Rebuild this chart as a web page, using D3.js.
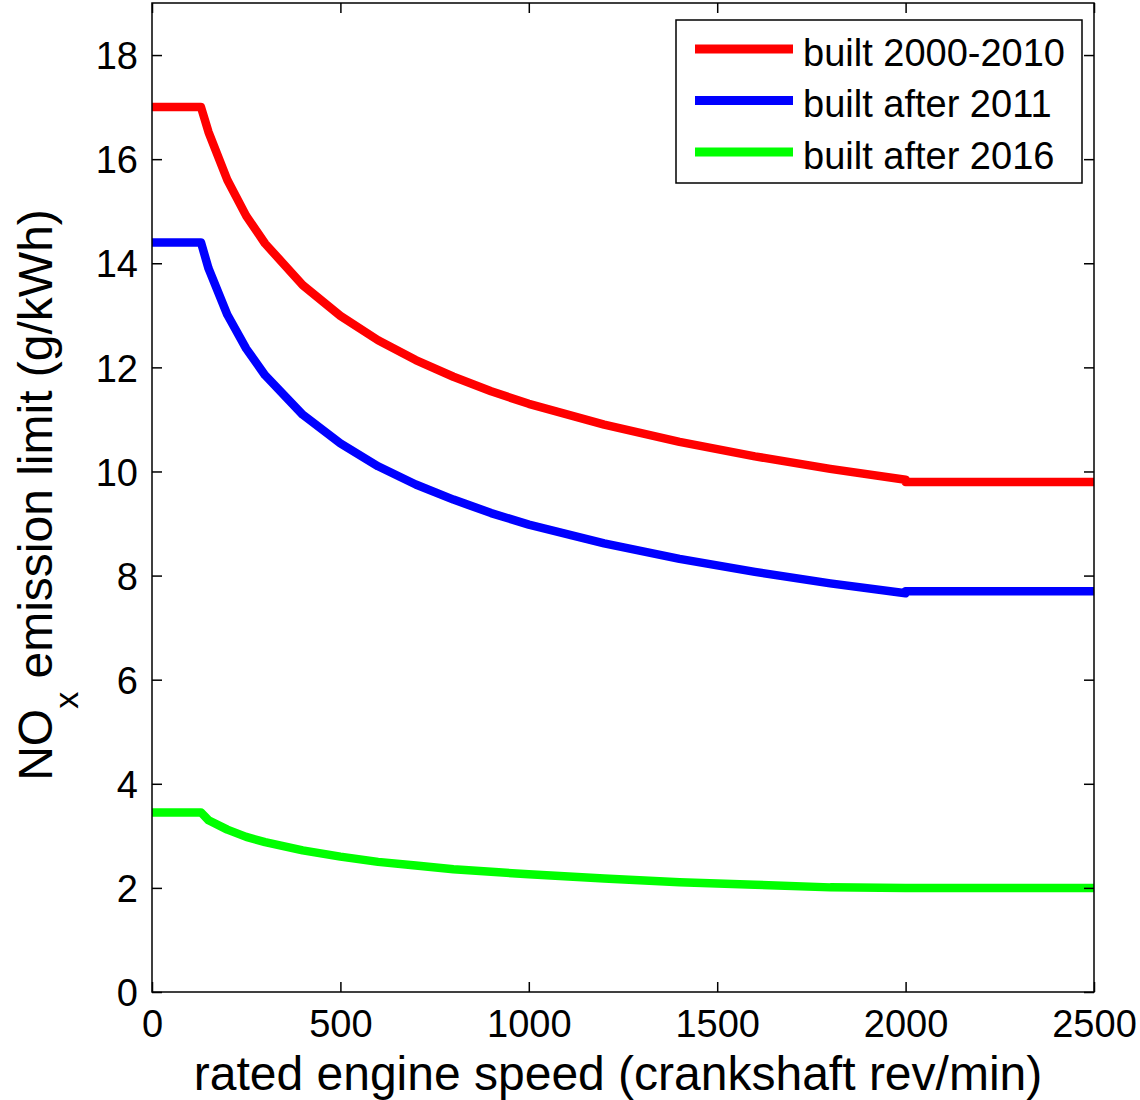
<!DOCTYPE html>
<html>
<head>
<meta charset="utf-8">
<script src="https://cdn.jsdelivr.net/npm/d3@7"></script>
<style>
  body { margin: 0; background: #fff; }
  text { font-family: "Liberation Sans", Arial, sans-serif; fill: #000; }
</style>
</head>
<body>
<div id="chart"></div>
<script>
// rated engine speed (rev/min)
var speeds = [0, 130, 150, 200, 250, 300, 400, 500, 600, 700, 800, 900, 1000, 1200, 1400, 1600, 1800, 2000, 2000, 2500];
// NOx limits (g/kWh)
var built2000 = [17.0, 17.0, 16.52, 15.60, 14.91, 14.38, 13.58, 12.99, 12.52, 12.14, 11.82, 11.54, 11.30, 10.90, 10.57, 10.29, 10.05, 9.84, 9.8, 9.8];
var built2011 = [14.4, 14.4, 13.90, 13.01, 12.36, 11.85, 11.09, 10.54, 10.10, 9.75, 9.46, 9.20, 8.98, 8.62, 8.32, 8.07, 7.85, 7.66, 7.7, 7.7];
var built2016 = [3.45, 3.45, 3.30, 3.12, 2.98, 2.88, 2.72, 2.60, 2.50, 2.43, 2.36, 2.31, 2.26, 2.18, 2.11, 2.06, 2.01, 2.0, 2.0, 2.0];
var seriesNames = ["built 2000-2010", "built after 2011", "built after 2016"];
var seriesColors = ["#ff0000", "#0000ff", "#00ff00"];
var xTicks = [0, 500, 1000, 1500, 2000, 2500];
var yTicks = [0, 2, 4, 6, 8, 10, 12, 14, 16, 18];

var W = 1140, H = 1100;
var margin = {top: 3, right: 46, bottom: 108, left: 152},
    width = W - margin.left - margin.right,
    height = H - margin.top - margin.bottom;

var svg = d3.select("#chart").append("svg")
    .attr("width", W)
    .attr("height", H);

var g = svg.append("g")
    .attr("transform", "translate(" + margin.left + "," + margin.top + ")");

var x = d3.scaleLinear().domain([0, 2500]).range([0, width]);
var y = d3.scaleLinear().domain([0, 19]).range([height, 0]);

var tickLen = 10;

// lines
var allSeries = [built2000, built2011, built2016];
var line = d3.line()
    .x(function(d) { return x(d[0]); })
    .y(function(d) { return y(d[1]); });

allSeries.forEach(function(vals, i) {
  g.append("path")
    .datum(speeds.map(function(s, j) { return [s, vals[j]]; }))
    .attr("fill", "none")
    .attr("stroke", seriesColors[i])
    .attr("stroke-width", 8.5)
    .attr("stroke-linejoin", "round")
    .attr("d", line);
});

// box
g.append("rect")
  .attr("x", 0).attr("y", 0)
  .attr("width", width).attr("height", height)
  .attr("fill", "none")
  .attr("stroke", "#000")
  .attr("stroke-width", 1.5);

// axes with inward ticks
var fmt = d3.format("d");
var xAxis = g.append("g")
  .attr("transform", "translate(0," + height + ")")
  .call(d3.axisBottom(x).tickValues(xTicks).tickFormat(fmt).tickSizeInner(-tickLen).tickSizeOuter(0).tickPadding(18));
var xTop = g.append("g")
  .call(d3.axisTop(x).tickValues(xTicks).tickSizeInner(-tickLen).tickSizeOuter(0).tickFormat(""));
var yAxis = g.append("g")
  .call(d3.axisLeft(y).tickValues(yTicks).tickFormat(fmt).tickSizeInner(-tickLen).tickSizeOuter(0).tickPadding(14));
var yRight = g.append("g")
  .attr("transform", "translate(" + width + ",0)")
  .call(d3.axisRight(y).tickValues(yTicks).tickSizeInner(-tickLen).tickSizeOuter(0).tickFormat(""));

[xAxis, xTop, yAxis, yRight].forEach(function(a) {
  a.select(".domain").remove();
  a.selectAll(".tick line").attr("stroke", "#000").attr("stroke-width", 1.5);
  a.selectAll("text")
    .style("font-family", "'Liberation Sans', Arial, sans-serif")
    .style("font-size", "38px")
    .attr("fill", "#000");
});
xAxis.selectAll("text").attr("dy", "0.71em");
yAxis.selectAll("text").attr("dy", "0.36em");

// axis titles
svg.append("text")
  .attr("x", 618)
  .attr("y", 1090)
  .attr("text-anchor", "middle")
  .style("font-size", "48px")
  .text("rated engine speed (crankshaft rev/min)");

var yt = svg.append("text")
  .attr("transform", "translate(52,495) rotate(-90)")
  .attr("text-anchor", "middle")
  .style("font-size", "48px");
yt.append("tspan").text("NO");
yt.append("tspan").attr("dy", 26).style("font-size", "34px").text("x");
yt.append("tspan").attr("dy", -26).text(" emission limit (g/kWh)");

// legend
var lg = svg.append("g");
lg.append("rect")
  .attr("x", 676).attr("y", 20)
  .attr("width", 406).attr("height", 163)
  .attr("fill", "#fff")
  .attr("stroke", "#000")
  .attr("stroke-width", 1.5);
var legendY = d3.scalePoint().domain(seriesNames).range([49, 152]);
seriesNames.forEach(function(name, i) {
  lg.append("line")
    .attr("x1", 695).attr("x2", 793)
    .attr("y1", legendY(name)).attr("y2", legendY(name))
    .attr("stroke", seriesColors[i])
    .attr("stroke-width", 9);
  lg.append("text")
    .attr("x", 803)
    .attr("y", legendY(name) + 3)
    .attr("dy", "0.36em")
    .style("font-size", "38px")
    .text(name);
});
</script>
</body>
</html>
